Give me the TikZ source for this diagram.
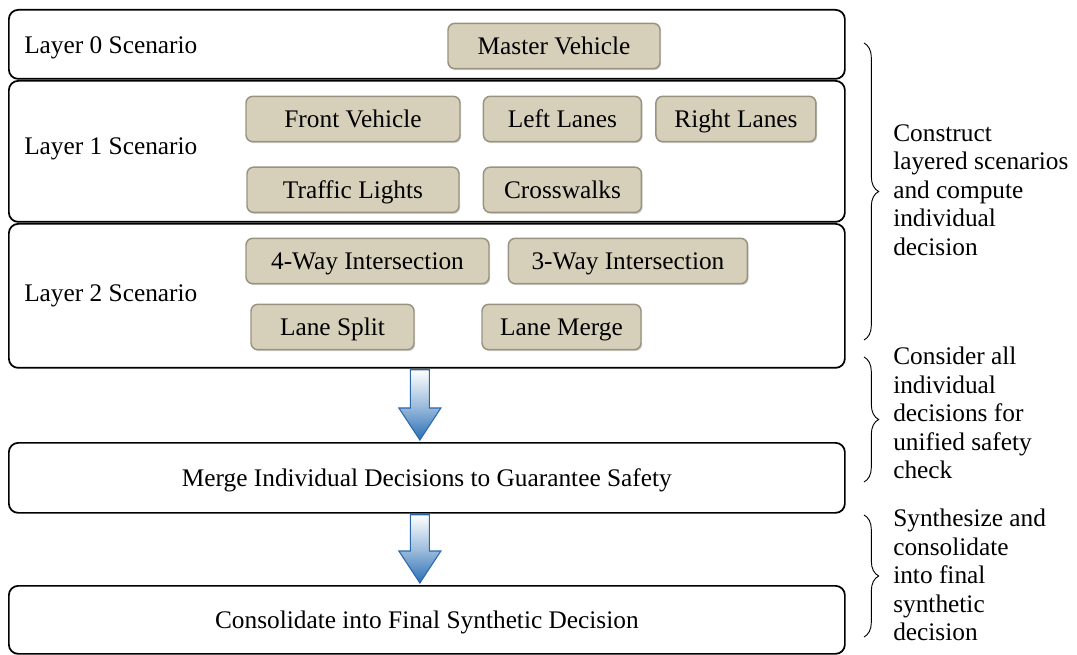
\documentclass[tikz,border=0pt]{standalone}
\usepackage{fontspec}
\setmainfont{Liberation Serif}
\usepackage{xcolor}
\definecolor{tanfill}{HTML}{D6D0BA}
\definecolor{tanedge}{HTML}{989380}
\definecolor{flowblue}{HTML}{2A6FB4}
\definecolor{flowedge}{HTML}{2A68AE}
\usepackage{tikz}
\usetikzlibrary{
  positioning,
  calc,
  shadows,
  decorations.pathreplacing
}
\newcommand{\dfont}{\fontsize{19pt}{21.4pt}\selectfont}
% big shaded arrow between two stacked boxes
\newcommand{\flowarrow}[2]{%
  \shade[flowarr] let \p1=(#1.south), \p2=(#2.north), \n1={\x1-5.25pt} in
    (\n1-7.1pt,\y1-0.75pt) -- (\n1+7.1pt,\y1-0.75pt) -- (\n1+7.1pt,\y2+25.5pt)
    -- (\n1+15.75pt,\y2+25.5pt) -- (\n1,\y2+1.5pt) -- (\n1-15.75pt,\y2+25.5pt)
    -- (\n1-7.1pt,\y2+25.5pt) -- cycle;}

\begin{document}
\begin{tikzpicture}[
  x=0.75pt, y=-0.75pt,
  layer/.style={
    draw, line width=1.3pt, rounded corners=7pt, anchor=north west,
    minimum width=627pt, inner sep=0pt, font=\dfont,
    text height=12.6pt, text depth=0pt
  },
  item/.style={
    draw=tanedge, fill=tanfill, line width=1.1pt, rounded corners=5pt,
    minimum height=34pt, inner sep=0pt, font=\dfont,
    text height=12.6pt, text depth=0pt,
    drop shadow={shadow xshift=0.9pt, shadow yshift=-1.1pt, opacity=0.35}
  },
  lname/.style={font=\dfont, anchor=west, inner sep=0pt, text height=12.6pt, text depth=0pt},
  note/.style={font=\dfont, align=left, anchor=west, inner sep=0pt},
  flowarr/.style={top color=white, bottom color=flowblue, middle color=flowblue!45!white,
    draw=flowedge, line width=0.8pt},
  every brace/.style={decorate, decoration={brace, amplitude=11pt}, line width=0.7pt}
]
\useasboundingbox (0,0) rectangle (1077,655);

% scenario layers
\node[layer, minimum height=51.75pt] (l0) at (8,9) {};
\node[layer, minimum height=105.75pt] (l1) at (8,80) {};
\node[layer, minimum height=108pt] (l2) at (8,223) {};
\node[layer, minimum height=52.5pt] (merge) at (8,442)
  {Merge Individual Decisions to Guarantee Safety};
\node[layer, minimum height=51pt] (final) at (8,585)
  {Consolidate into Final Synthetic Decision};

\node[lname] (l0name) at ($(l0.west)+(16,1)$) {Layer 0 Scenario};
\node[lname] (l1name) at ($(l1.west)+(16,-5)$) {Layer 1 Scenario};
\node[lname] (l2name) at ($(l2.west)+(16,-3)$) {Layer 2 Scenario};

% layer 0
\node[item, minimum width=159pt] (master) at (554,46) {Master Vehicle};

% layer 1
\node[item, minimum width=160.5pt] (front) at (353,119) {Front Vehicle};
\node[item, minimum width=118.5pt, right=16.5pt of front] (left) {Left Lanes};
\node[item, minimum width=120pt, right=9.75pt of left] (right) {Right Lanes};
\node[item, minimum width=159pt, below=18pt of front] (traffic) {Traffic Lights};
\node[item, minimum width=118.5pt, below=18pt of left] (cross) {Crosswalks};

% layer 2
\node[item, minimum width=182.25pt] (way4) at (367.5,261) {4-Way Intersection};
\node[item, minimum width=179.25pt, right=13.5pt of way4] (way3) {3-Way Intersection};
\node[item, minimum width=122.25pt] (split) at (332.5,327) {Lane Split};
\node[item, minimum width=119.25pt] (lmerge) at (561.5,327) {Lane Merge};

% flow
\flowarrow{l2}{merge}
\flowarrow{merge}{final}

% side notes
\coordinate (b1top) at (864,43);
\coordinate (b1bot) at (864,340);
\coordinate (b2top) at (864,357);
\coordinate (b2bot) at (864,482);
\coordinate (b3top) at (864,515);
\coordinate (b3bot) at (864,637);
\draw[every brace] (b1top) -- (b1bot);
\draw[every brace] (b2top) -- (b2bot);
\draw[every brace] (b3top) -- (b3bot);

\node[note] (n1) at (893,190)
  {Construct\\layered scenarios\\and compute\\individual\\decision};
\node[note] (n2) at (893,413)
  {Consider all\\individual\\decisions for\\unified safety\\check};
\node[note] (n3) at (893,575)
  {Synthesize and\\consolidate\\into final\\synthetic\\decision};

\end{tikzpicture}
\end{document}
